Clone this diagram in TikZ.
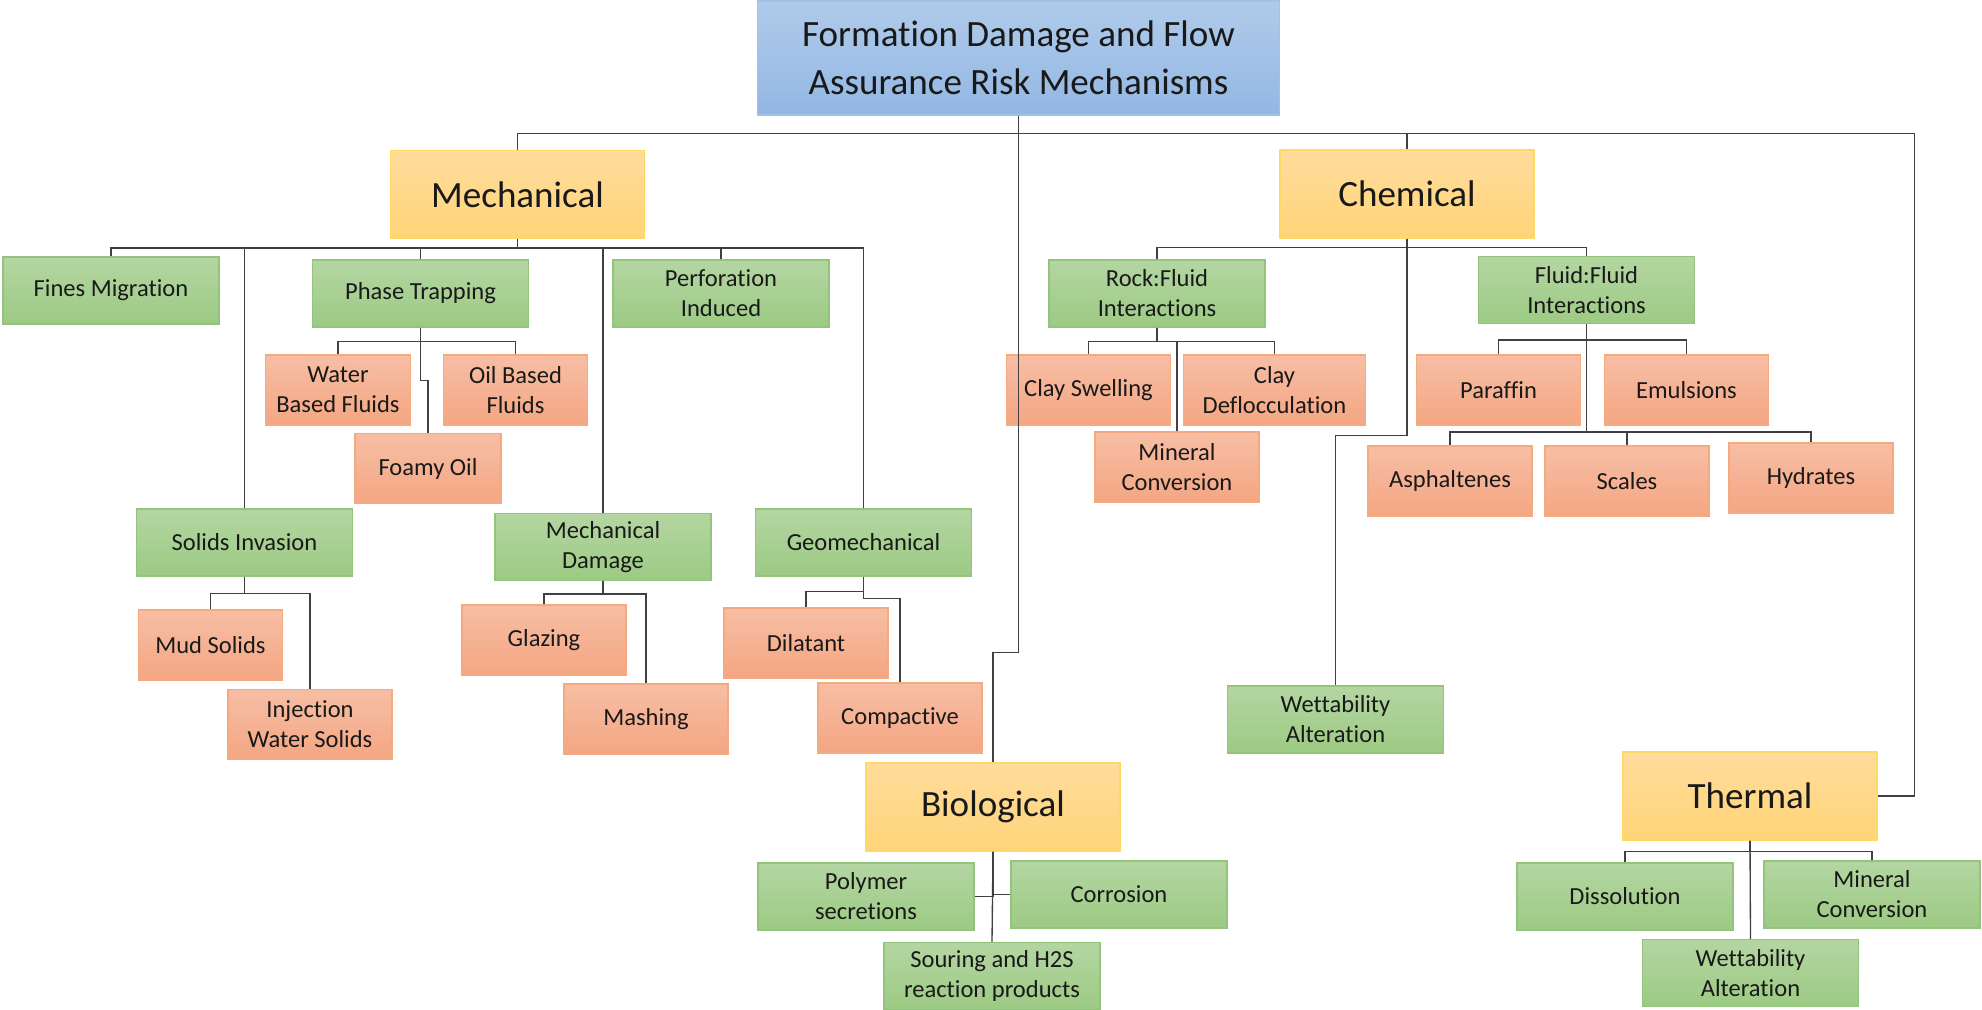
\documentclass[tikz,border=0pt]{standalone}
\usepackage{fontspec}
\setmainfont{Carlito}[Ligatures=NoCommon]
\usetikzlibrary{shapes}

\definecolor{blueTop}{HTML}{B0CBEA}
\definecolor{blueBot}{HTML}{93B7E3}
\definecolor{blueLine}{HTML}{9DC3E6}
\definecolor{goldTop}{HTML}{FFDC9C}
\definecolor{goldBot}{HTML}{FFD478}
\definecolor{goldLine}{HTML}{FFD966}
\definecolor{greenTop}{HTML}{B4D6A2}
\definecolor{greenBot}{HTML}{9CCA83}
\definecolor{greenLine}{HTML}{93C47D}
\definecolor{peachTop}{HTML}{F7BEA4}
\definecolor{peachBot}{HTML}{F4A683}
\definecolor{peachLine}{HTML}{F5A97F}
\definecolor{wire}{HTML}{404040}

\tikzset{
box/.style={rectangle, draw, line width=0.9pt, align=center, text=black!90, inner sep=2pt},
root/.style={box, top color=blueTop, bottom color=blueBot, draw=blueLine, minimum width=392pt, minimum height=85.5pt, font=\fontsize{27.8}{36}\selectfont},
family/.style={box, top color=goldTop, bottom color=goldBot, draw=goldLine, minimum width=190.5pt, minimum height=66pt, font=\fontsize{27.8}{34}\selectfont},
cause/.style={box, top color=greenTop, bottom color=greenBot, draw=greenLine, minimum width=162pt, minimum height=50.25pt, font=\fontsize{18.4}{22.5}\selectfont},
leaf/.style={box, top color=peachTop, bottom color=peachBot, draw=peachLine, minimum width=123pt, minimum height=52.5pt, font=\fontsize{18.4}{22.5}\selectfont},
line/.style={draw=wire, line width=1pt},
elbow/.style={to path={(\tikztostart) -- ++(0,#1) -| (\tikztotarget)}}
}

\begin{document}
\begin{tikzpicture}[x=0.75pt, y=-0.75pt]
    \useasboundingbox (0,0) rectangle (1982,1010);
    % Place nodes
    \node [root] (title) at (1018.5,58) {Formation Damage and Flow\\Assurance Risk Mechanisms};
    \node [family] (mech) at (517.5,194.5) {Mechanical};
    \node [family] (chem) at (1407,194) {Chemical};
    \node [family] (bio) at (993,807) {Biological};
    \node [family] (thermal) at (1750,796) {Thermal};
    % mechanical branch
    \node [cause] (fines) at (111,290.5) {Fines Migration};
    \node [cause] (phase) at (420.5,293.5) {Phase Trapping};
    \node [cause] (perf) at (721,293.5) {Perforation\\Induced};
    \node [cause] (solids) at (244.5,542.5) {Solids Invasion};
    \node [cause] (mechdmg) at (603,547) {Mechanical\\Damage};
    \node [cause] (geomech) at (863.5,542.5) {Geomechanical};
    \node [leaf, minimum width=108.5pt] (water) at (338,390) {Water\\Based Fluids};
    \node [leaf, minimum width=108.5pt] (oil) at (515.5,390) {Oil Based\\Fluids};
    \node [leaf, minimum width=109.5pt] (foamy) at (428,468.5) {Foamy Oil};
    \node [leaf, minimum width=108.5pt] (mud) at (210.5,645) {Mud Solids};
    \node [leaf] (injection) at (310,724.5) {Injection\\Water Solids};
    \node [leaf] (glazing) at (544,640) {Glazing};
    \node [leaf] (mashing) at (646,719) {Mashing};
    \node [leaf] (dilatant) at (806,643) {Dilatant};
    \node [leaf] (compactive) at (900,718) {Compactive};
    % chemical branch
    \node [cause] (rockfluid) at (1157,293.5) {Rock:Fluid\\Interactions};
    \node [cause] (fluidfluid) at (1586.5,290) {Fluid:Fluid\\Interactions};
    \node [cause] (wettchem) at (1335.5,719.5) {Wettability\\Alteration};
    \node [leaf] (swelling) at (1088.5,390) {Clay Swelling};
    \node [leaf, minimum width=137pt] (defloc) at (1274.5,390) {Clay\\Deflocculation};
    \node [leaf] (minchem) at (1177,467) {Mineral\\Conversion};
    \node [leaf] (paraffin) at (1498.5,390) {Paraffin};
    \node [leaf] (emulsions) at (1686.5,390) {Emulsions};
    \node [leaf] (asphalt) at (1450,481) {Asphaltenes};
    \node [leaf] (scales) at (1627,481) {Scales};
    \node [leaf] (hydrates) at (1811,478) {Hydrates};
    % biological branch
    \node [cause] (polymer) at (866,896.5) {Polymer\\secretions};
    \node [cause] (corrosion) at (1119,894.5) {Corrosion};
    \node [cause] (souring) at (992,976) {Souring and H2S\\reaction products};
    % thermal branch
    \node [cause] (dissolution) at (1625,896.5) {Dissolution};
    \node [cause] (minthermal) at (1872,894.5) {Mineral\\Conversion};
    \node [cause] (wetttherm) at (1750.5,973) {Wettability\\Alteration};
    \coordinate (thturn) at ([xshift=27.75pt]thermal.east);
    % Draw edges
    \path [line] (title.south) to[elbow=18] (mech.north);
    \path [line] (title.south) to[elbow=18] (chem.north);
    \path [line] (title.south) to[elbow=537] (bio.north);
    \path [line] (title.south) -- ++(0,18) -| (thturn) -- (thermal.east);
    \path [line] (mech.south) to[elbow=9] (fines.north);
    \path [line] (mech.south) to[elbow=9] (solids.north);
    \path [line] (mech.south) to[elbow=9] (phase.north);
    \path [line] (mech.south) to[elbow=9] (mechdmg.north);
    \path [line] (mech.south) to[elbow=9] (perf.north);
    \path [line] (mech.south) to[elbow=9] (geomech.north);
    \path [line] (phase.south) to[elbow=14] (water.north);
    \path [line] (phase.south) to[elbow=14] (oil.north);
    \path [line] (phase.south) to[elbow=53] (foamy.north);
    \path [line] (solids.south) to[elbow=17] (mud.north);
    \path [line] (solids.south) to[elbow=17] (injection.north);
    \path [line] (mechdmg.south) to[elbow=13] (glazing.north);
    \path [line] (mechdmg.south) to[elbow=13] (mashing.north);
    \path [line] (geomech.south) to[elbow=15] (dilatant.north);
    \path [line] (geomech.south) to[elbow=22] (compactive.north);
    \path [line] (chem.south) to[elbow=9] (rockfluid.north);
    \path [line] (chem.south) to[elbow=9] (fluidfluid.north);
    \path [line] (chem.south) to[elbow=197] (wettchem.north);
    \path [line] (rockfluid.south) to[elbow=14] (swelling.north);
    \path [line] (rockfluid.south) to[elbow=14] (defloc.north);
    \path [line] (rockfluid.south) to[elbow=14] (minchem.north);
    \path [line] (fluidfluid.south) to[elbow=16] (paraffin.north);
    \path [line] (fluidfluid.south) to[elbow=16] (emulsions.north);
    \path [line] (fluidfluid.south) to[elbow=108] (asphalt.north);
    \path [line] (fluidfluid.south) to[elbow=108] (scales.north);
    \path [line] (fluidfluid.south) to[elbow=108] (hydrates.north);
    \path [line] (bio.south) |- (polymer.east);
    \path [line] (bio.south) |- (corrosion.west);
    \path [line] (bio.south) -- (souring.north);
    \path [line] (thermal.south) to[elbow=11] (dissolution.north);
    \path [line] (thermal.south) to[elbow=11] (minthermal.north);
    \path [line] (thermal.south) -- (wetttherm.north);
\end{tikzpicture}
\end{document}
